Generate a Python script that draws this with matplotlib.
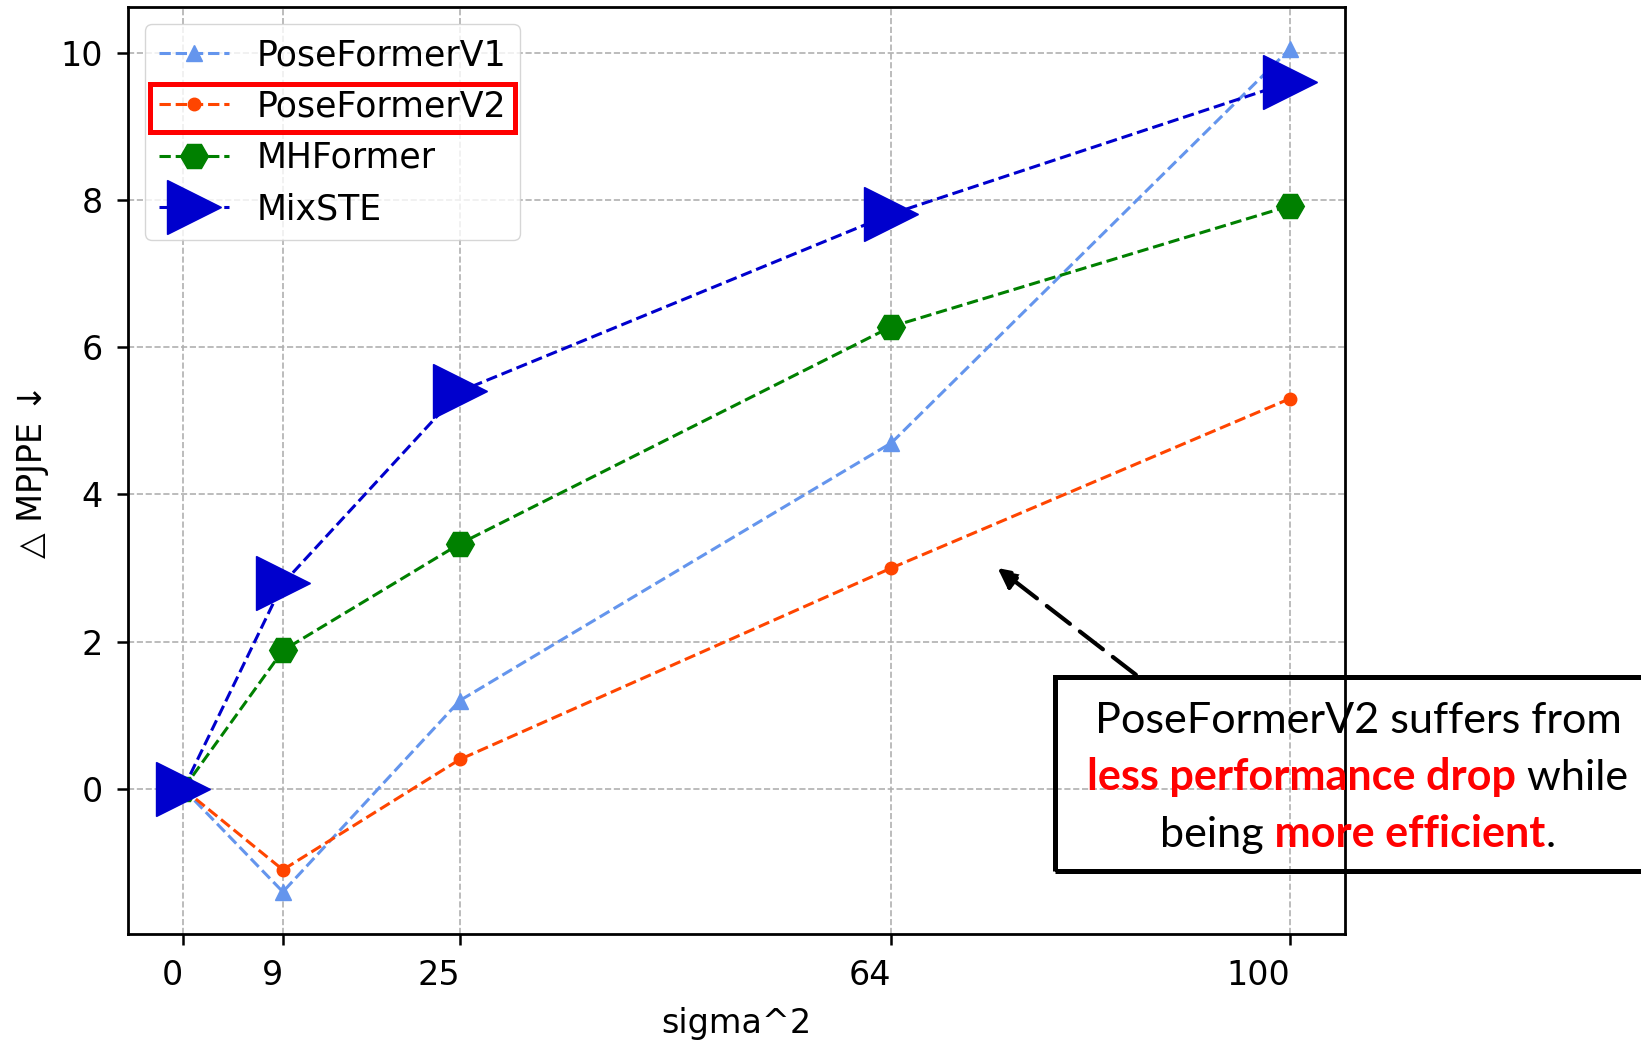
import matplotlib
matplotlib.use("Agg")
import matplotlib.pyplot as plt
from matplotlib.patches import Rectangle

# ##################### DATA #####################
sigma2 = [0, 9, 25, 64, 100]
tick_labels = ["0", "9", "25", "64", "100"]

poseformer_v1 = [0, -1.4, 1.2, 4.7, 10.05]
poseformer_v2 = [0, -1.1, 0.4, 3.0, 5.3]
mhformer = [0, 1.88, 3.33, 6.28, 7.92]
mixste = [0, 2.79, 5.4, 7.81, 9.6]

note_lines = [
    [("PoseFormerV2 suffers from", "black", "normal")],
    [("less performance drop", "red", "bold"), (" while", "black", "normal")],
    [("being", "black", "normal"), (" more efficient", "red", "bold"), (".", "black", "normal")],
]

W, H = 1641, 1041
fig = plt.figure(figsize=(W / 100, H / 100), dpi=100)
ax = fig.add_axes([128 / W, (H - 934) / H, (1345 - 128) / W, (934 - 7) / H])

FS = 24

ax.plot(sigma2, poseformer_v1, "--", marker="^", color="cornflowerblue",
        lw=2.2, markersize=12, label="PoseFormerV1")
ax.plot(sigma2, poseformer_v2, "--", marker="o", color="orangered",
        lw=2.2, markersize=9, label="PoseFormerV2")
ax.plot(sigma2, mhformer, "--", marker="H", color="green",
        lw=2.2, markersize=20, label="MHFormer")
ax.plot(sigma2, mixste, "--", marker=">", color="mediumblue",
        lw=2.2, markersize=39, label="MixSTE")

ax.grid(True, linestyle="--", color="#b0b0b0", lw=1.2)
ax.set_axisbelow(True)

ax.set_xticks(sigma2)
ax.set_xticklabels(tick_labels, ha="right")
ax.set_yticks([0, 2, 4, 6, 8, 10])
ax.tick_params(labelsize=FS, length=8, width=1.8, pad=10)
for s in ax.spines.values():
    s.set_linewidth(2)

ax.set_xlabel("sigma^2", fontsize=FS, labelpad=11)
ax.set_ylabel("△ MPJPE ↓", fontsize=FS, labelpad=8)

leg = ax.legend(loc="upper left", fontsize=25, handlelength=2.0)

# arrow pointing at the PoseFormerV2 curve
ax.annotate("", xy=(73.6, 3.0), xytext=(86.1, 1.55),
            arrowprops=dict(arrowstyle="-|>", lw=3, ls=(0, (7, 3)),
                            color="black", mutation_scale=30,
                            shrinkA=0, shrinkB=0))

fig.canvas.draw()
r = fig.canvas.get_renderer()

# red box around PoseFormerV2 legend entry
txt = leg.get_texts()[1].get_window_extent(r)
x0 = leg.get_window_extent(r).x0 + 5
x1 = txt.x1 + 9
yc = (txt.y0 + txt.y1) / 2 - 1
fig.add_artist(Rectangle((x0 / W, (yc - 24) / H), (x1 - x0) / W, 48 / H,
                         transform=fig.transFigure, fill=False,
                         ec="red", lw=3.6, zorder=10))


# ##################### NOTE BOX #####################
def text_width(s, weight, size):
    t = fig.text(0, 0, s, fontsize=size, family="Lato", weight=weight)
    w = t.get_window_extent(r).width
    t.remove()
    return w


size = 30 * 528 / text_width(note_lines[0][0][0], "normal", 30)
cx = 1358
for i, line in enumerate(note_lines):
    widths = [text_width(s, wt, size) for s, c, wt in line]
    x = cx - sum(widths) / 2
    yb = 733 + i * 57
    for (s, c, wt), w in zip(line, widths):
        fig.text(x / W, (H - yb) / H, s, fontsize=size, family="Lato",
                 weight=wt, color=c, ha="left", va="baseline", zorder=11)
        x += w

fig.add_artist(Rectangle((1055 / W, (H - 871) / H), 606 / W, 194 / H,
                         transform=fig.transFigure, fill=False,
                         ec="black", lw=3.6, zorder=10))

fig.savefig("out.png", dpi=100)
